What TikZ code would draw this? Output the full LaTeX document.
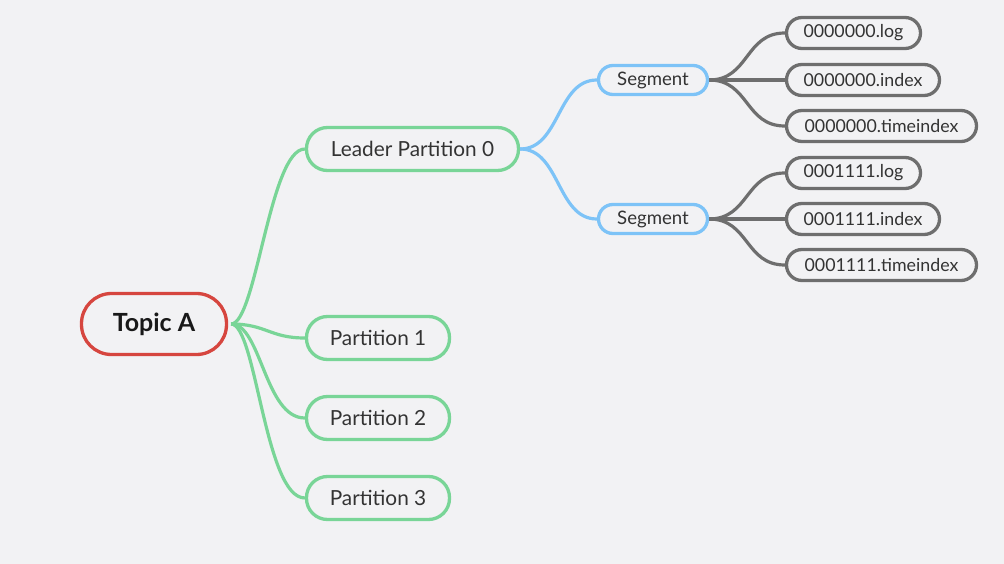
\documentclass[tikz,border=0pt]{standalone}
\usepackage{fontspec}
\setmainfont{Lato}
\definecolor{bg}{HTML}{F2F2F4}
\definecolor{cgreen}{HTML}{79D597}
\definecolor{cblue}{HTML}{7DC3F7}
\definecolor{cgray}{HTML}{6E6E6E}
\definecolor{cred}{HTML}{D6463F}
\definecolor{ctext}{HTML}{333333}
\tikzset{
  box/.style={draw, line width=3.3pt, rounded corners=#1, inner sep=0pt, text=ctext},
  topicbox/.style={box=30pt, draw=cred, minimum width=145pt, minimum height=61pt, font=\fontsize{25}{28}\selectfont\bfseries, text=black!90},
  partbox/.style={box=21pt, draw=cgreen, minimum height=43pt, font=\fontsize{20.8}{24}\selectfont},
  segbox/.style={box=14.5pt, draw=cblue, minimum width=109pt, minimum height=29pt, font=\fontsize{18.6}{21}\selectfont},
  filebox/.style={box=15.5pt, draw=cgray, minimum height=31pt, font=\fontsize{17.8}{21}\selectfont},
  glink/.style={draw=cgreen, line width=3.2pt},
  blink/.style={draw=cblue, line width=3.2pt},
  klink/.style={draw=cgray, line width=3.2pt},
}
\begin{document}
\begin{tikzpicture}[x=1pt,y=-1pt]
\fill[bg] (0,0) rectangle (1004,564);
\useasboundingbox (0,0) rectangle (1004,564);
% nodes
\node[topicbox] (topic) at (154,324) {Topic A};
\node[partbox, minimum width=212pt] (lp0) at (412.5,149) {Leader Partition 0};
\node[partbox, minimum width=143pt] (p1) at (378,338) {Partition 1};
\node[partbox, minimum width=143pt] (p2) at (378,418) {Partition 2};
\node[partbox, minimum width=143pt] (p3) at (378,498) {Partition 3};
\node[segbox] (s1) at (653,80) {Segment};
\node[segbox] (s2) at (653,219) {Segment};
\node[filebox, minimum width=134pt] (f1) at (853.5,33) {0000000.log};
\node[filebox, minimum width=153pt] (f2) at (863,80) {0000000.index};
\node[filebox, minimum width=190pt] (f3) at (881.5,126) {0000000.timeindex};
\node[filebox, minimum width=134pt] (f4) at (853.5,173) {0001111.log};
\node[filebox, minimum width=153pt] (f5) at (863,219) {0001111.index};
\node[filebox, minimum width=190pt] (f6) at (881.5,265) {0001111.timeindex};
% connectors
\coordinate (tA) at ([xshift=3pt]topic.east);
\path[glink] (tA) .. controls +(25,0) and +(-35,0) .. (lp0.west);
\path[glink] (tA) .. controls +(35,0) and +(-35,0) .. (p1.west);
\path[glink] (tA) .. controls +(30,0) and +(-40,0) .. (p2.west);
\path[glink] (tA) .. controls +(25,0) and +(-40,0) .. (p3.west);
\path[blink] (lp0.east) .. controls +(40,0) and +(-40,0) .. (s1.west);
\path[blink] (lp0.east) .. controls +(40,0) and +(-40,0) .. (s2.west);
\path[klink] (s1.east) .. controls +(40,0) and +(-40,0) .. (f1.west);
\path[klink] (s1.east) -- (f2.west);
\path[klink] (s1.east) .. controls +(40,0) and +(-40,0) .. (f3.west);
\path[klink] (s2.east) .. controls +(40,0) and +(-40,0) .. (f4.west);
\path[klink] (s2.east) -- (f5.west);
\path[klink] (s2.east) .. controls +(40,0) and +(-40,0) .. (f6.west);
\end{tikzpicture}
\end{document}
